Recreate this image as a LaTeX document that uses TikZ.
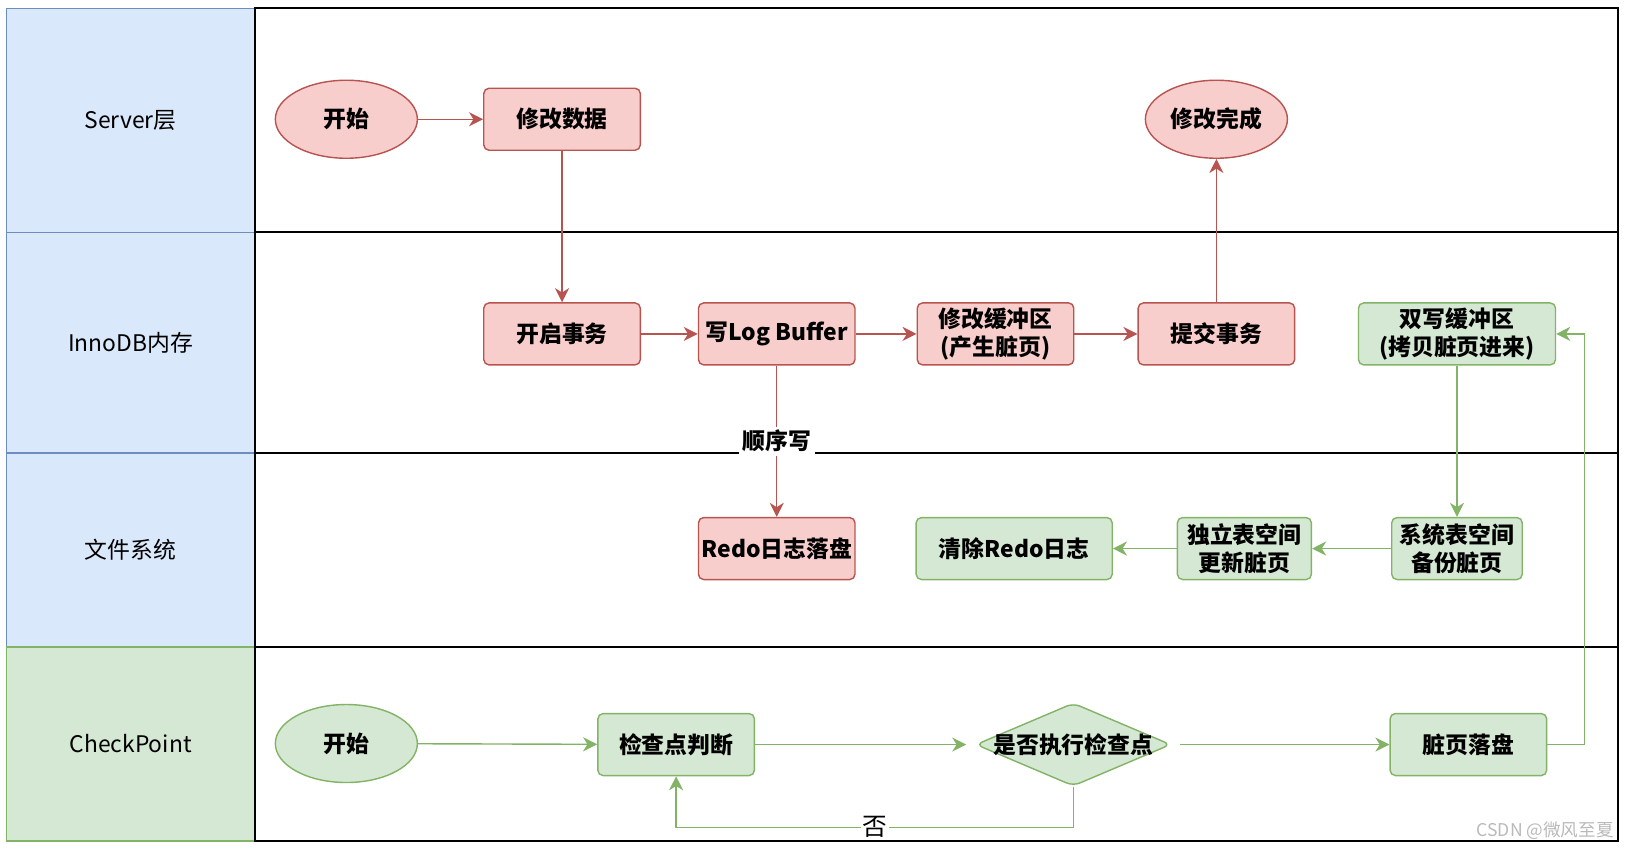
\documentclass[tikz,border=0pt]{standalone}
\usepackage{fontspec}
\setmainfont{Noto Sans CJK SC}
\usetikzlibrary{arrows.meta,shapes.geometric}

\definecolor{redfill}{HTML}{F8CECC}
\definecolor{redline}{HTML}{B85450}
\definecolor{greenfill}{HTML}{D5E8D4}
\definecolor{greenline}{HTML}{82B366}
\definecolor{bluefill}{HTML}{DAE8FC}
\definecolor{blueline}{HTML}{6C8EBF}

\begin{document}
\begin{tikzpicture}[x=0.02074cm,y=-0.02074cm,line width=0.8pt,
        txt/.style={font=\fontsize{13}{16}\selectfont\bfseries},
        box/.style={txt, rectangle, rounded corners=3pt, align=center,
                        inner sep=0pt, minimum width=3.13cm, minimum height=1.24cm},
        rbox/.style={box, draw=redline, fill=redfill},
        gbox/.style={box, draw=greenline, fill=greenfill},
        oval/.style={txt, ellipse, inner sep=0pt,
                        minimum width=2.84cm, minimum height=1.56cm},
        roval/.style={oval, draw=redline, fill=redfill},
        goval/.style={oval, draw=greenline, fill=greenfill},
        dia/.style={diamond, rounded corners=4pt, draw=greenline, fill=greenfill,
                        inner sep=0pt, minimum width=3.9cm, minimum height=1.66cm},
        lane/.style={font=\fontsize{13}{16}\selectfont},
        rarr/.style={draw=redline, -{Stealth[length=8pt,width=8pt,inset=2.5pt]}},
        garr/.style={draw=greenline, -{Stealth[length=8pt,width=8pt,inset=2.5pt]}}]
    \useasboundingbox (0,0) rectangle (1568,819);

    % lanes
    \draw[draw=blueline, fill=bluefill] (6,8) rectangle (246,224)
        node[midway, lane] (lserver) {Server层};
    \draw[draw=blueline, fill=bluefill] (6,224) rectangle (246,437)
        node[midway, lane] (linno) {InnoDB内存};
    \draw[draw=blueline, fill=bluefill] (6,437) rectangle (246,624)
        node[midway, lane] (lfile) {文件系统};
    \draw[draw=greenline, fill=greenfill] (6,624) rectangle (246,811)
        node[midway, lane] (lcp) {CheckPoint};
    \foreach \ya/\yb in {8/224, 224/437, 437/624, 624/811}
        \draw[line width=1pt] (246,\ya) rectangle (1560,\yb);

    % Server
    \node[roval] (start) at (334,115) {开始};
    \node[rbox] (modify) at (542,115) {修改数据};
    \node[roval] (done) at (1173,115) {修改完成};

    % InnoDB
    \node[rbox] (begin) at (542,322) {开启事务};
    \node[rbox] (logbuf) at (749,322) {写Log Buffer};
    \node[rbox] (buffer) at (960,322) {修改缓冲区\\(产生脏页)};
    \node[rbox] (commit) at (1173,322) {提交事务};
    \node[gbox, minimum width=3.94cm] (dwb) at (1405,322) {双写缓冲区\\(拷贝脏页进来)};

    % files
    \node[rbox] (redo) at (749,529) {Redo日志落盘};
    \node[gbox, minimum width=3.92cm] (clear) at (978,529) {清除Redo日志};
    \node[gbox, minimum width=2.68cm] (indep) at (1200,529) {独立表空间\\更新脏页};
    \node[gbox, minimum width=2.61cm] (sys) at (1405,529) {系统表空间\\备份脏页};

    % checkpoint
    \node[goval] (cpstart) at (334,717) {开始};
    \node[gbox] (check) at (652,718) {检查点判断};
    \node[dia, label={[txt]center:是否执行检查点}] (judge) at (1035,718) {};
    \node[gbox] (flush) at (1416,718) {脏页落盘};

    \draw[rarr] (start) -- (modify);
    \draw[rarr] (modify) -- (begin);
    \draw[rarr] (begin) -- (logbuf);
    \draw[rarr] (logbuf) -- (buffer);
    \draw[rarr] (buffer) -- (commit);
    \draw[rarr] (commit) -- (done);
    \draw[rarr] (logbuf) -- node[txt, fill=white, inner sep=2pt] (seq) {顺序写} (redo);

    \draw[garr] (dwb) -- (sys);
    \draw[garr] (sys) -- (indep);
    \draw[garr] (indep) -- (clear);
    \draw[garr] (cpstart) -- (check);
    \draw[garr, shorten >=5pt] (check) -- (judge);
    \draw[garr, shorten <=5pt] (judge) -- (flush);
    \draw[garr] (flush.east) -- ++(36,0) |- (dwb.east);
    \draw[garr] (judge.south) -- ++(0,39) -| node[pos=0.25, fill=white, inner sep=1pt,
        font=\fontsize{14}{16}\selectfont] (no) {否} (check.south);

    \node[text=gray!55, font=\fontsize{10}{12}\selectfont] (mark) at (1490,801) {CSDN @微风至夏};
\end{tikzpicture}
\end{document}
